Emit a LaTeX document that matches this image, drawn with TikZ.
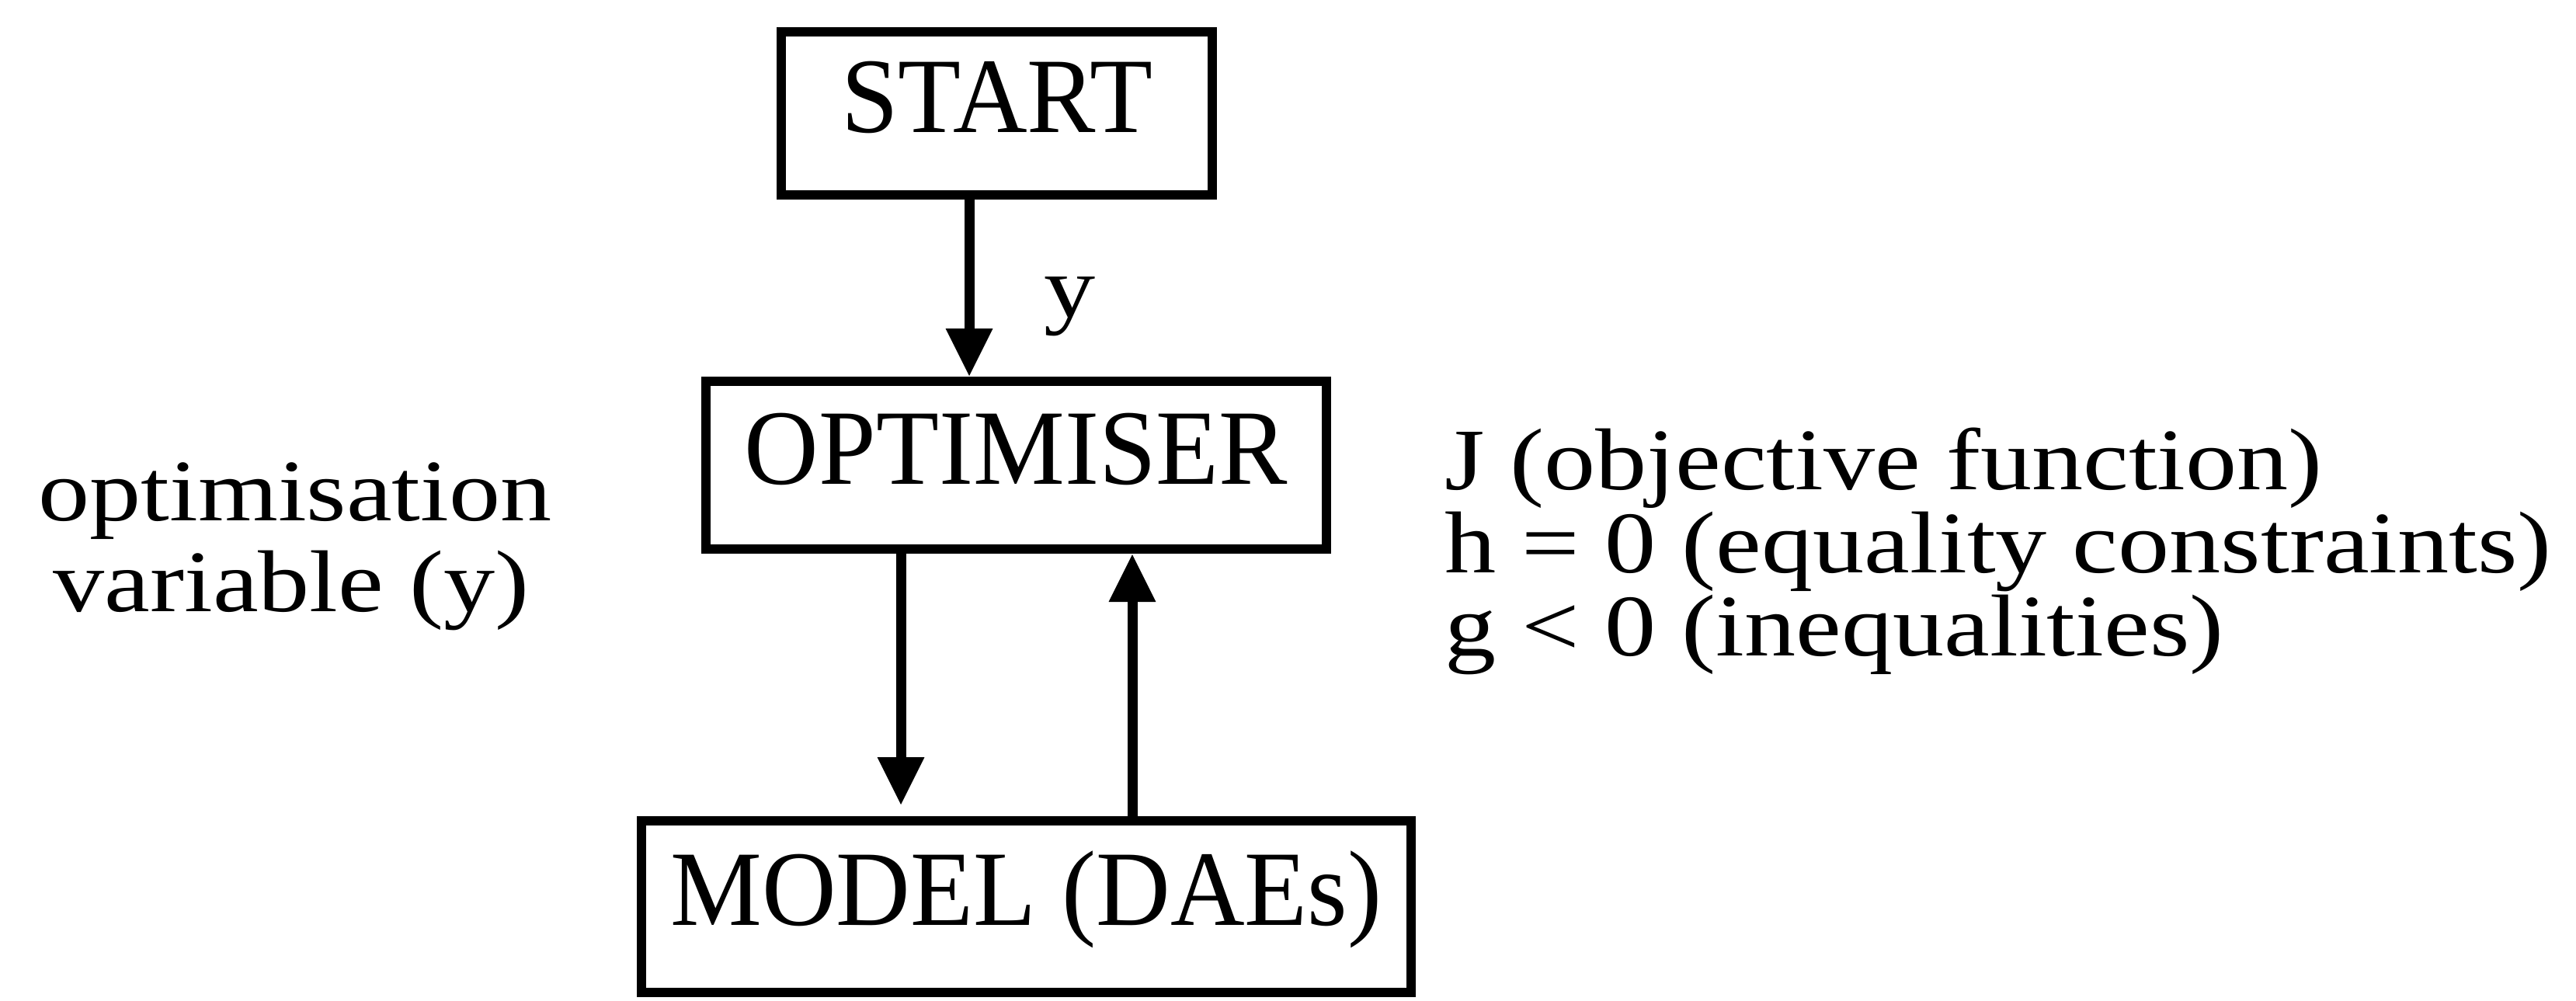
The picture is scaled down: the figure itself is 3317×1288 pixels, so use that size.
\documentclass[tikz,border=0pt]{standalone}
\usepackage{fontspec}
\setmainfont[FakeStretch=0.96]{Liberation Serif}
\newfontfamily\sidefont[FakeStretch=1.17]{Liberation Serif}
\usetikzlibrary{arrows.meta}
\begin{document}
\begin{tikzpicture}[x=0.1pt,y=-0.1pt,
  every node/.style={font=\fontsize{13.8pt}{16pt}\selectfont, inner sep=0pt},
  stagebox/.style={draw, line width=1.2pt, text height=0.7em, text depth=0.22em},
  arr/.style={line width=1.3pt, -{Triangle[width=5.7pt,length=6.2pt]}},
  sidestyle/.style={font=\sidefont\fontsize{11.3pt}{13pt}\selectfont},
  sidetext/.style={sidestyle, anchor=base west},
  lefttext/.style={sidestyle, anchor=base}]
\useasboundingbox (0,0) rectangle (3317,1288);
\node[stagebox, minimum width=55.5pt, minimum height=21pt] (start) at (1283.5,146) {START};
\node[stagebox, minimum width=79.9pt, minimum height=21.6pt] (opt) at (1308.5,599) {OPTIMISER};
\node[stagebox, minimum width=99.1pt, minimum height=22.1pt] (model) at (1321.5,1167.5) {MODEL (DAEs)};
\coordinate (xa) at (1248,0);
\coordinate (xb) at (1160,0);
\coordinate (xc) at (1458,0);
\draw[arr] (start.south -| xa) -- (opt.north -| xa);
\draw[arr, shorten >=1.4pt] (opt.south -| xb) -- (model.north -| xb);
\draw[arr] (model.north -| xc) -- (opt.south -| xc);
\node[sidestyle, anchor=base] (ylab) at (1378,408) {y};
\node[lefttext] (l1) at (380,670) {optimisation};
\node[lefttext] (l2) at (375,787) {variable (y)};
\node[sidetext] (r1) at (1858,630) {J (objective function)};
\node[sidetext] (r2) at (1858,737) {h = 0 (equality constraints)};
\node[sidetext] (r3) at (1858,844) {g < 0 (inequalities)};
\end{tikzpicture}
\end{document}
